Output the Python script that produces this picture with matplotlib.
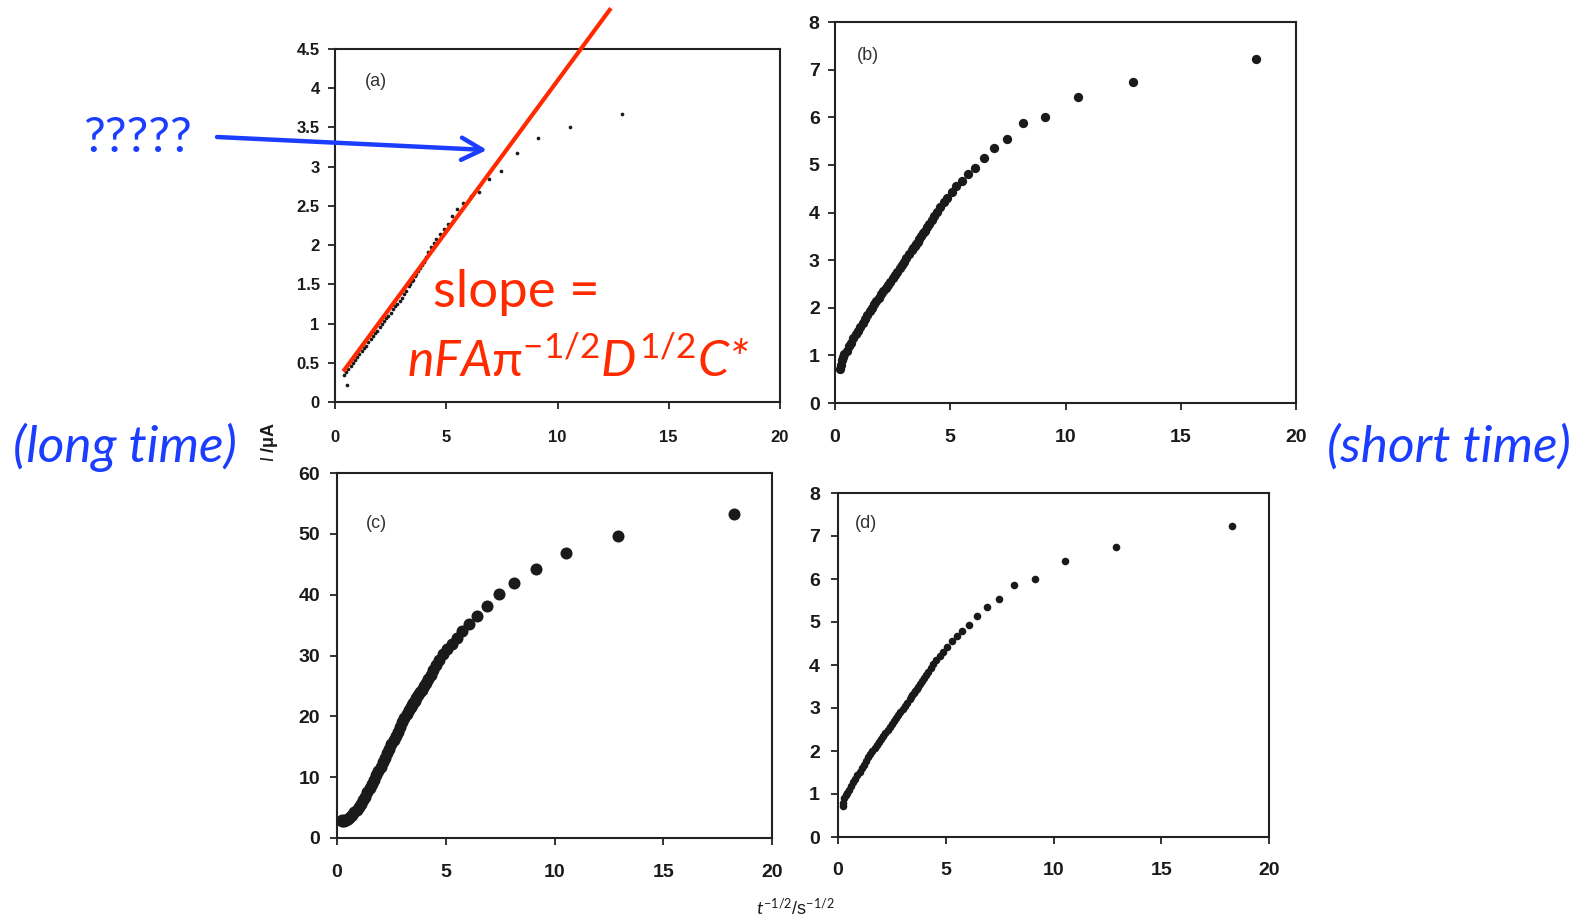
import matplotlib
matplotlib.use('Agg')
import matplotlib.pyplot as plt
import numpy as np
from matplotlib.patches import FancyArrowPatch

plt.rcParams['mathtext.fontset'] = 'custom'
plt.rcParams['mathtext.rm'] = 'Lato'
plt.rcParams['mathtext.it'] = 'Lato:italic'
plt.rcParams['mathtext.sf'] = 'Lato'

W, H = 1593, 916
RED = '#FF2A00'
BLUE = '#1A3DFF'
INK = '#1a1a1a'

# ---- data ----
# panel (a): long-time transient, I/uA vs t^-1/2
xa = [12.91, 10.54, 9.13, 8.16, 7.45, 6.90, 6.45, 6.09, 5.77, 5.50, 5.27, 5.06,
      4.88, 4.71, 4.56, 4.43, 4.30, 4.19, 4.08, 3.98, 3.89, 3.81, 3.73, 3.65,
      3.58, 3.51, 3.45, 3.39, 3.33, 3.2, 3.1, 3.0, 2.9, 2.8, 2.7, 2.6, 2.5,
      2.4, 2.3, 2.2, 2.1, 2.0, 1.9, 1.8, 1.7, 1.6, 1.5, 1.4, 1.3, 1.2, 1.1,
      1.0, 0.9, 0.8, 0.7, 0.6, 0.5, 0.4, 0.53]
ya = [3.67, 3.51, 3.36, 3.18, 2.95, 2.84, 2.68, 2.63, 2.54, 2.46, 2.37, 2.27,
      2.20, 2.14, 2.08, 2.03, 1.97, 1.91, 1.85, 1.79, 1.75, 1.71, 1.67, 1.63,
      1.60, 1.56, 1.54, 1.51, 1.48, 1.42, 1.38, 1.33, 1.29, 1.25, 1.22, 1.18, 1.14,
      1.10, 1.07, 1.03, 0.99, 0.95, 0.91, 0.88, 0.84, 0.80, 0.76, 0.72, 0.69, 0.65, 0.61,
      0.57, 0.53, 0.50, 0.46, 0.42, 0.38, 0.34, 0.22]

# fitted straight line on panel (a)
fit_x = [0.37, 12.4]
fit_y = [0.39, 5.02]

# panels (b)-(d): short-time transients, shared time base
xs = [18.26, 12.91, 10.54, 9.13, 8.16, 7.45, 6.90, 6.45, 6.09, 5.77, 5.50, 5.27,
      5.06, 4.88, 4.71, 4.56, 4.43, 4.30, 4.19, 4.08, 3.98, 3.89, 3.81, 3.73,
      3.65, 3.58, 3.51, 3.45, 3.39, 3.33, 3.2, 3.1, 3.0, 2.9, 2.8, 2.7, 2.6,
      2.5, 2.4, 2.3, 2.2, 2.1, 2.0, 1.9, 1.8, 1.7, 1.6, 1.5, 1.4, 1.3, 1.2,
      1.1, 1.0, 0.9, 0.8, 0.7, 0.6, 0.5, 0.4, 0.35, 0.3, 0.25, 0.22]
yb = [7.23, 6.75, 6.42, 6.01, 5.87, 5.54, 5.35, 5.14, 4.93, 4.80, 4.67, 4.55,
      4.42, 4.31, 4.21, 4.11, 4.02, 3.92, 3.84, 3.76, 3.69, 3.62, 3.56, 3.50,
      3.44, 3.39, 3.34, 3.30, 3.25, 3.21, 3.12, 3.04, 2.97, 2.90, 2.83, 2.76, 2.69,
      2.62, 2.55, 2.48, 2.42, 2.35, 2.28, 2.21, 2.14, 2.07, 2.00, 1.93, 1.85, 1.77, 1.68,
      1.60, 1.52, 1.44, 1.36, 1.27, 1.19, 1.10, 1.02, 0.97, 0.90, 0.80, 0.72]
yc = [53.2, 49.6, 46.9, 44.2, 42.0, 40.1, 38.2, 36.5, 35.1, 34.1, 32.9, 31.9,
      31.0, 30.2, 29.3, 28.4, 27.6, 26.8, 26.2, 25.5, 25.0, 24.4, 24.0, 23.5,
      23.0, 22.6, 22.2, 21.8, 21.5, 21.1, 20.4, 19.7, 19.0, 18.3, 17.5, 16.8, 16.1,
      15.4, 14.6, 13.9, 13.2, 12.5, 11.7, 11.0, 10.3, 9.6, 8.9, 8.2, 7.5, 6.8, 6.2,
      5.6, 5.1, 4.6, 4.2, 3.8, 3.5, 3.2, 3.0, 2.9, 2.8, 2.8, 2.9]
yd = yb

xticks = [0, 5, 10, 15, 20]
yticks_a = [0, 0.5, 1, 1.5, 2, 2.5, 3, 3.5, 4, 4.5]
ytick_labels_a = ['0', '0.5', '1', '1.5', '2', '2.5', '3', '3.5', '4', '4.5']
yticks_bd = [0, 1, 2, 3, 4, 5, 6, 7, 8]
yticks_c = [0, 10, 20, 30, 40, 50, 60]


def box(l, t, r, b):
    return [l / W, 1 - b / H, (r - l) / W, (b - t) / H]


def fx(px):
    return px / W


def fy(py):
    return 1 - py / H


fig = plt.figure(figsize=(W / 100, H / 100), dpi=100)


def style(ax, ylim, yticks, fsize, xpad, ypad, ylabels=None):
    ax.set_xlim(0, 20)
    ax.set_ylim(*ylim)
    ax.set_xticks(xticks)
    ax.set_yticks(yticks)
    if ylabels is not None:
        ax.set_yticklabels(ylabels)
    for s in ax.spines.values():
        s.set_linewidth(1.5)
        s.set_color('#222222')
    ax.tick_params(axis='both', direction='out', length=5, width=1.3, color='#222222')
    ax.tick_params(axis='x', pad=xpad)
    ax.tick_params(axis='y', pad=ypad)
    for lab in ax.get_xticklabels() + ax.get_yticklabels():
        lab.set_fontfamily('Liberation Sans')
        lab.set_fontweight('bold')
        lab.set_fontsize(fsize)
        lab.set_color(INK)


ax_a = fig.add_axes(box(335, 49, 780, 402))
ax_b = fig.add_axes(box(835, 22, 1296, 403))
ax_c = fig.add_axes(box(337, 473, 772, 838))
ax_d = fig.add_axes(box(838, 493, 1269, 837))

ax_a.scatter(xa, ya, s=7, color=INK, linewidths=0, zorder=3)
ax_a.plot(fit_x, fit_y, color=RED, lw=3, solid_capstyle='butt', clip_on=False, zorder=5)
style(ax_a, (0, 4.5), yticks_a, 12, 15, 6, ytick_labels_a)

ax_b.scatter(xs, yb, s=45, color=INK, linewidths=0, zorder=3)
style(ax_b, (0, 8), yticks_bd, 14, 14, 6)

ax_c.scatter(xs, yc, s=75, color=INK, linewidths=0, zorder=3)
style(ax_c, (0, 60), yticks_c, 14, 14, 7)

ax_d.scatter(xs, yd, s=30, color=INK, linewidths=0, zorder=3)
style(ax_d, (0, 8), yticks_bd, 14, 13, 8)

fig.text(fx(376), fy(82), '(a)', fontsize=13, family='Liberation Sans', color='#333333', ha='center', va='center')
fig.text(fx(868), fy(56), '(b)', fontsize=13, family='Liberation Sans', color='#333333', ha='center', va='center')
fig.text(fx(376), fy(523), '(c)', fontsize=13, family='Liberation Sans', color='#333333', ha='center', va='center')
fig.text(fx(866), fy(524), '(d)', fontsize=13, family='Liberation Sans', color='#333333', ha='center', va='center')

# shared axis labels
fig.text(fx(270), fy(442), r'$I$ /μA', rotation=90, fontsize=13, family='Liberation Sans',
         fontweight='bold', ha='center', va='center', color=INK)
fig.text(fx(795), fy(908), r'$t^{-1/2}$/s$^{-1/2}$', fontsize=13, family='Liberation Sans',
         ha='center', va='center', color=INK)

# slide annotations
fig.text(fx(433), fy(307), 'slope =', fontsize=38, family='Lato', color=RED, va='baseline')
fig.text(fx(407), fy(377), r'$nFA\mathrm{\pi}^{\mathrm{-1/2}}D^{\mathrm{1/2}}C$*', fontsize=36,
         family='Lato', style='italic', color=RED, va='baseline')
fig.text(fx(84), fy(152), '?????', fontsize=35, family='Lato', color=BLUE, va='baseline')
fig.text(fx(13), fy(462), '(long time)', fontsize=37, family='Lato', style='italic', color=BLUE, va='baseline')
fig.text(fx(1327), fy(462), '(short time)', fontsize=37, family='Lato', style='italic', color=BLUE, va='baseline')

arrow = FancyArrowPatch((fx(217), fy(137)), (fx(487), fy(150)), transform=fig.transFigure,
                        arrowstyle='->,head_length=0.75,head_width=0.4', mutation_scale=20,
                        color=BLUE, lw=3.2, shrinkA=0, shrinkB=0)
fig.add_artist(arrow)

fig.savefig('out.png', dpi=100)
